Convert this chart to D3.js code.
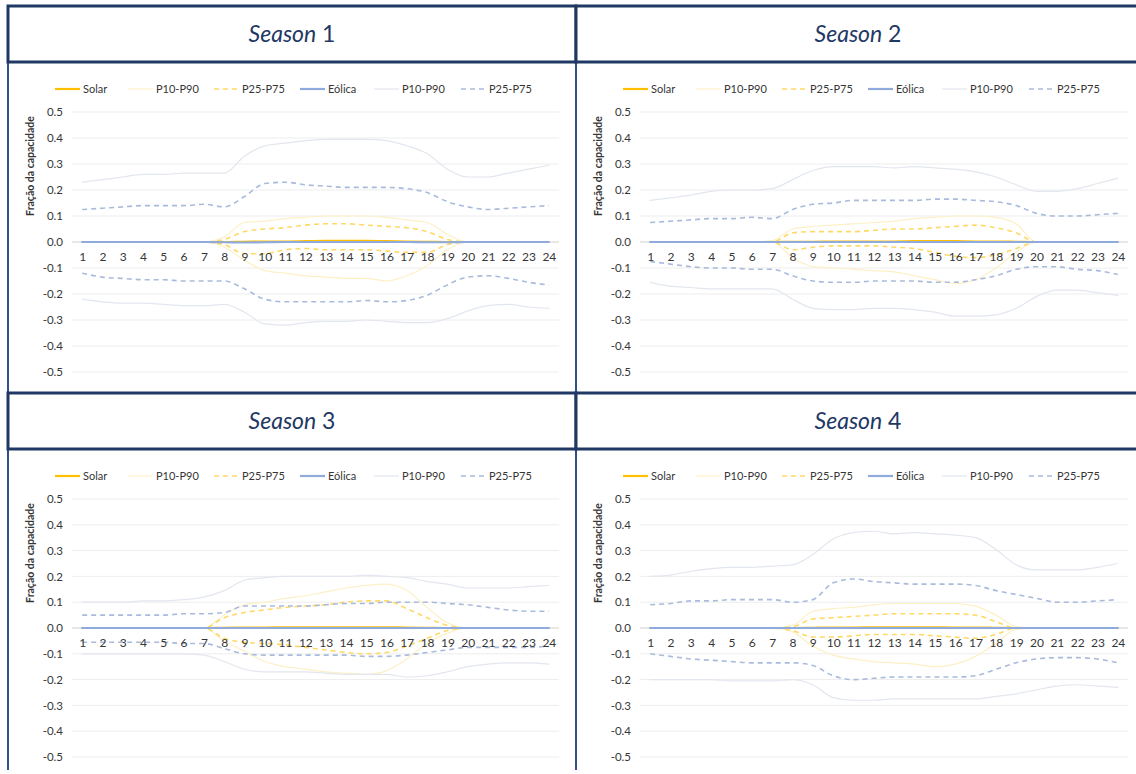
<!DOCTYPE html>
<html>
<head>
<meta charset="utf-8">
<script src="https://cdn.jsdelivr.net/npm/d3@7/dist/d3.min.js"></script>
<style>
  html, body { margin: 0; padding: 0; background: #fff; }
  svg { display: block; font-family: Lato, "Open Sans", sans-serif; }
</style>
</head>
<body>
<svg id="chart" width="1136" height="774"></svg>
<script>
// Hours of the day
const hours = d3.range(1, 25);
const yTicks = [0.5, 0.4, 0.3, 0.2, 0.1, 0.0, -0.1, -0.2, -0.3, -0.4, -0.5];
const seasonNames = ["1", "2", "3", "4"];
const legendLabels = ["Solar", "P10-P90", "P25-P75", "Eólica", "P10-P90", "P25-P75"];

// ---- Season 1 ----
const s1SolarMed = [0,0,0,0,0,0,0,0,0.001,0.002,0.002,0.003,0.004,0.004,0.004,0.003,0.002,0.001,0,0,0,0,0,0];
const s1SolarP90 = [0,0,0,0,0,0,0,0.02,0.075,0.08,0.09,0.095,0.1,0.1,0.1,0.095,0.085,0.075,0.03,0,0,0,0,0];
const s1SolarP75 = [0,0,0,0,0,0,0,0.01,0.04,0.05,0.055,0.065,0.07,0.07,0.065,0.06,0.055,0.04,0.01,0,0,0,0,0];
const s1SolarP25 = [0,0,0,0,0,0,0,-0.01,-0.045,-0.045,-0.03,-0.025,-0.03,-0.03,-0.03,-0.035,-0.04,-0.04,-0.01,0,0,0,0,0];
const s1SolarP10 = [0,0,0,0,0,0,0,-0.02,-0.07,-0.11,-0.12,-0.13,-0.135,-0.14,-0.14,-0.15,-0.13,-0.09,-0.03,0,0,0,0,0];
const s1WindMed  = [0,0,0,0,0,0,0,-0.001,-0.002,-0.001,0,0,0,0,0,0,0,-0.001,-0.001,0,0,0,0,0];
const s1WindP90  = [0.23,0.24,0.25,0.26,0.26,0.265,0.265,0.265,0.33,0.37,0.38,0.39,0.395,0.395,0.395,0.39,0.37,0.34,0.28,0.25,0.25,0.265,0.28,0.295];
const s1WindP75  = [0.125,0.13,0.135,0.14,0.14,0.14,0.145,0.135,0.175,0.225,0.23,0.22,0.215,0.21,0.21,0.21,0.205,0.19,0.155,0.135,0.125,0.13,0.135,0.14];
const s1WindP25  = [-0.12,-0.135,-0.14,-0.145,-0.145,-0.15,-0.15,-0.15,-0.18,-0.22,-0.23,-0.23,-0.23,-0.23,-0.225,-0.23,-0.225,-0.205,-0.165,-0.135,-0.13,-0.14,-0.155,-0.165];
const s1WindP10  = [-0.22,-0.23,-0.235,-0.235,-0.24,-0.245,-0.245,-0.24,-0.27,-0.315,-0.32,-0.31,-0.305,-0.305,-0.3,-0.305,-0.31,-0.31,-0.295,-0.265,-0.245,-0.24,-0.25,-0.255];

// ---- Season 2 ----
const s2SolarMed = [0,0,0,0,0,0,0,0.001,0.001,0.002,0.002,0.002,0.002,0.003,0.003,0.003,0.002,0.002,0.001,0,0,0,0,0];
const s2SolarP90 = [0,0,0,0,0,0,0.005,0.05,0.06,0.065,0.07,0.075,0.08,0.09,0.095,0.1,0.1,0.095,0.07,0,0,0,0,0];
const s2SolarP75 = [0,0,0,0,0,0,0,0.035,0.04,0.04,0.04,0.045,0.05,0.05,0.055,0.06,0.065,0.055,0.035,0,0,0,0,0];
const s2SolarP25 = [0,0,0,0,0,0,0,-0.03,-0.02,-0.015,-0.015,-0.015,-0.02,-0.025,-0.04,-0.055,-0.06,-0.05,-0.025,0,0,0,0,0];
const s2SolarP10 = [0,0,0,0,0,0,0,-0.06,-0.095,-0.1,-0.105,-0.11,-0.115,-0.13,-0.145,-0.16,-0.145,-0.1,-0.04,0,0,0,0,0];
const s2WindMed  = [0,0,0,0,0,0,0,0,0,0,0,0,0,0,0,0,0,0,0,0,0,0,0,0];
const s2WindP90  = [0.16,0.17,0.18,0.195,0.2,0.2,0.205,0.24,0.275,0.29,0.29,0.29,0.285,0.29,0.285,0.28,0.27,0.25,0.22,0.195,0.195,0.205,0.225,0.245];
const s2WindP75  = [0.075,0.08,0.085,0.09,0.09,0.095,0.09,0.125,0.145,0.15,0.16,0.16,0.16,0.16,0.165,0.165,0.16,0.155,0.14,0.11,0.1,0.1,0.105,0.11];
const s2WindP25  = [-0.075,-0.085,-0.095,-0.1,-0.1,-0.105,-0.105,-0.13,-0.15,-0.155,-0.155,-0.15,-0.15,-0.15,-0.155,-0.155,-0.145,-0.13,-0.105,-0.095,-0.095,-0.105,-0.11,-0.125];
const s2WindP10  = [-0.155,-0.17,-0.175,-0.18,-0.18,-0.18,-0.18,-0.22,-0.255,-0.26,-0.26,-0.255,-0.255,-0.26,-0.27,-0.285,-0.285,-0.28,-0.255,-0.21,-0.185,-0.185,-0.195,-0.205];

// ---- Season 3 ----
const s3SolarMed = [0,0,0,0,0,0,0,0.001,0.002,0.002,0.003,0.003,0.003,0.003,0.003,0.003,0.002,0.001,0,0,0,0,0,0];
const s3SolarP90 = [0,0,0,0,0,0,0,0.05,0.09,0.1,0.115,0.125,0.14,0.155,0.165,0.17,0.145,0.08,0.02,0,0,0,0,0];
const s3SolarP75 = [0,0,0,0,0,0,0,0.04,0.06,0.07,0.08,0.085,0.09,0.1,0.105,0.105,0.075,0.04,0.01,0,0,0,0,0];
const s3SolarP25 = [0,0,0,0,0,0,0,-0.04,-0.055,-0.06,-0.065,-0.075,-0.085,-0.095,-0.1,-0.095,-0.07,-0.04,-0.01,0,0,0,0,0];
const s3SolarP10 = [0,0,0,0,0,0,0,-0.05,-0.09,-0.13,-0.15,-0.16,-0.17,-0.175,-0.18,-0.165,-0.12,-0.06,-0.02,0,0,0,0,0];
const s3WindMed  = [0,0,0,0,0,0,0,0,0,0,0,0,0,0,0,0,0,0,0,0,0,0,0,0];
const s3WindP90  = [0.1,0.1,0.1,0.105,0.105,0.11,0.12,0.145,0.185,0.195,0.2,0.2,0.2,0.2,0.205,0.2,0.195,0.18,0.17,0.155,0.155,0.155,0.16,0.165];
const s3WindP75  = [0.05,0.05,0.05,0.05,0.05,0.055,0.055,0.06,0.085,0.085,0.085,0.085,0.09,0.095,0.095,0.1,0.1,0.1,0.095,0.09,0.08,0.07,0.065,0.065];
const s3WindP25  = [-0.055,-0.055,-0.055,-0.055,-0.055,-0.06,-0.06,-0.08,-0.1,-0.105,-0.105,-0.105,-0.105,-0.105,-0.11,-0.11,-0.105,-0.095,-0.085,-0.075,-0.075,-0.075,-0.075,-0.07];
const s3WindP10  = [-0.1,-0.1,-0.1,-0.1,-0.1,-0.1,-0.105,-0.13,-0.16,-0.17,-0.17,-0.17,-0.175,-0.18,-0.18,-0.18,-0.19,-0.185,-0.17,-0.15,-0.14,-0.135,-0.135,-0.14];

// ---- Season 4 ----
const s4SolarMed = [0,0,0,0,0,0,0,0,0.001,0.002,0.002,0.003,0.003,0.003,0.003,0.002,0.002,0.001,0,0,0,0,0,0];
const s4SolarP90 = [0,0,0,0,0,0,0,0.01,0.065,0.075,0.08,0.09,0.095,0.095,0.095,0.095,0.085,0.05,0.005,0,0,0,0,0];
const s4SolarP75 = [0,0,0,0,0,0,0,0.005,0.035,0.04,0.045,0.05,0.055,0.055,0.055,0.055,0.05,0.025,0,0,0,0,0,0];
const s4SolarP25 = [0,0,0,0,0,0,0,-0.01,-0.035,-0.035,-0.03,-0.025,-0.025,-0.025,-0.03,-0.035,-0.04,-0.025,0,0,0,0,0,0];
const s4SolarP10 = [0,0,0,0,0,0,0,-0.015,-0.07,-0.105,-0.12,-0.13,-0.135,-0.14,-0.15,-0.14,-0.11,-0.06,-0.005,0,0,0,0,0];
const s4WindMed  = [0,0,0,0,0,0,0,0,0,0,0,0,0,0,0,0,0,0,0,0,0,0,0,0];
const s4WindP90  = [0.2,0.205,0.22,0.23,0.235,0.235,0.24,0.245,0.285,0.345,0.37,0.375,0.365,0.37,0.365,0.36,0.35,0.305,0.245,0.225,0.225,0.225,0.235,0.25];
const s4WindP75  = [0.09,0.095,0.105,0.105,0.11,0.11,0.11,0.1,0.11,0.175,0.19,0.18,0.175,0.17,0.17,0.17,0.165,0.145,0.13,0.115,0.1,0.1,0.105,0.11];
const s4WindP25  = [-0.1,-0.11,-0.12,-0.125,-0.13,-0.135,-0.135,-0.135,-0.145,-0.185,-0.2,-0.195,-0.19,-0.19,-0.19,-0.19,-0.185,-0.16,-0.135,-0.12,-0.115,-0.115,-0.12,-0.135];
const s4WindP10  = [-0.2,-0.2,-0.2,-0.2,-0.205,-0.205,-0.205,-0.2,-0.22,-0.27,-0.28,-0.28,-0.275,-0.275,-0.275,-0.275,-0.275,-0.265,-0.255,-0.24,-0.225,-0.22,-0.225,-0.23];

// Series bundled per season, in the drawing order of the legend
const seasons = [
  { solar: [s1SolarMed, s1SolarP90, s1SolarP10, s1SolarP75, s1SolarP25], wind: [s1WindMed, s1WindP90, s1WindP10, s1WindP75, s1WindP25] },
  { solar: [s2SolarMed, s2SolarP90, s2SolarP10, s2SolarP75, s2SolarP25], wind: [s2WindMed, s2WindP90, s2WindP10, s2WindP75, s2WindP25] },
  { solar: [s3SolarMed, s3SolarP90, s3SolarP10, s3SolarP75, s3SolarP25], wind: [s3WindMed, s3WindP90, s3WindP10, s3WindP75, s3WindP25] },
  { solar: [s4SolarMed, s4SolarP90, s4SolarP10, s4SolarP75, s4SolarP25], wind: [s4WindMed, s4WindP90, s4WindP10, s4WindP75, s4WindP25] }
];

// ---- styling ----
const NAVY = "#1f3864";
const TEXT = "#363636";
const styles = {
  solarMed: { stroke: "#ffc000", width: 2.2, dash: null },
  solarOuter: { stroke: "#fdf0c6", width: 1.2, dash: null },
  solarInner: { stroke: "#ffd966", width: 1.6, dash: "5,4" },
  windMed: { stroke: "#8faadc", width: 2.2, dash: null },
  windOuter: { stroke: "#e2e6ee", width: 1.2, dash: null },
  windInner: { stroke: "#a9bbdd", width: 1.6, dash: "5,4" }
};
const legendStyles = [styles.solarMed, styles.solarOuter, styles.solarInner, styles.windMed, styles.windOuter, styles.windInner];

const svg = d3.select("#chart");

// ---- panel frame layout ----
const colX = [8, 576, 1142];
const rows = [
  { titleTop: 6, titleBottom: 62, chartBottom: 393, yTop: 112, yBottom: 372 },
  { titleTop: 393, titleBottom: 449, chartBottom: 770, yTop: 499, yBottom: 757 }
];

// chart body verticals (thinner than the title boxes)
rows.forEach(r => {
  [colX[0], colX[1]].forEach(x => {
    svg.append("line")
      .attr("x1", x).attr("x2", x)
      .attr("y1", r.titleBottom).attr("y2", r.chartBottom)
      .attr("stroke", "#2f4f8f").attr("stroke-width", 2);
  });
});

function drawPanel(idx) {
  const row = rows[Math.floor(idx / 2)];
  const col = idx % 2;
  const left = colX[col];
  const right = colX[col + 1];
  const data = seasons[idx];

  const plotLeft = col === 0 ? 72 : 640;
  const plotRight = col === 0 ? 559 : 1128;

  const x = d3.scalePoint().domain(hours).range([plotLeft, plotRight]).padding(0.5);
  const y = d3.scaleLinear().domain([-0.5, 0.5]).range([row.yBottom, row.yTop]);

  const g = svg.append("g");

  // title box
  g.append("rect")
    .attr("x", left).attr("y", row.titleTop)
    .attr("width", right - left).attr("height", row.titleBottom - row.titleTop)
    .attr("fill", "#fff").attr("stroke", NAVY).attr("stroke-width", 3);

  const title = g.append("text")
    .attr("x", (left + Math.min(right, 1140)) / 2)
    .attr("y", (row.titleTop + row.titleBottom) / 2 + 8)
    .attr("text-anchor", "middle")
    .attr("fill", NAVY)
    .style("font-size", "23px");
  title.append("tspan").style("font-style", "italic").text("Season");
  title.append("tspan").text(" " + seasonNames[idx]);

  // gridlines
  g.append("g").selectAll("line").data(yTicks).join("line")
    .attr("x1", plotLeft).attr("x2", plotRight)
    .attr("y1", d => y(d)).attr("y2", d => y(d))
    .attr("stroke", "#ededed").attr("stroke-width", 1);

  // y axis labels
  const yAxis = d3.axisLeft(y).tickValues(yTicks).tickSize(0).tickPadding(9)
    .tickFormat(d => (Math.abs(d) < 1e-9 ? 0 : d).toFixed(1));
  g.append("g").attr("transform", `translate(${plotLeft},0)`).call(yAxis)
    .call(a => a.select(".domain").remove())
    .selectAll("text")
    .attr("fill", TEXT).style("font-size", "11.5px").style("font-family", "Lato, sans-serif");

  // y axis title
  g.append("text")
    .attr("transform", `translate(${left + 22},${row.yTop + 54}) rotate(-90)`)
    .attr("text-anchor", "middle")
    .attr("dy", "0.35em")
    .attr("fill", TEXT)
    .style("font-size", "10.5px").style("font-weight", "bold")
    .text("Fração da capacidade");

  // zero axis line
  g.append("line")
    .attr("x1", plotLeft).attr("x2", plotRight)
    .attr("y1", y(0)).attr("y2", y(0))
    .attr("stroke", "#d9d9d9").attr("stroke-width", 1);

  // series lines
  const line = d3.line().x((d, i) => x(hours[i])).y(d => y(d)).curve(d3.curveMonotoneX);
  const drawSeries = (arr, st) => {
    g.append("path").datum(arr)
      .attr("d", line)
      .attr("fill", "none")
      .attr("stroke", st.stroke)
      .attr("stroke-width", st.width)
      .attr("stroke-dasharray", st.dash)
      .attr("stroke-linecap", st.dash ? "butt" : "round");
  };
  drawSeries(data.solar[0], styles.solarMed);
  drawSeries(data.solar[1], styles.solarOuter);
  drawSeries(data.solar[2], styles.solarOuter);
  drawSeries(data.solar[3], styles.solarInner);
  drawSeries(data.solar[4], styles.solarInner);
  drawSeries(data.wind[0], styles.windMed);
  drawSeries(data.wind[1], styles.windOuter);
  drawSeries(data.wind[2], styles.windOuter);
  drawSeries(data.wind[3], styles.windInner);
  drawSeries(data.wind[4], styles.windInner);

  // x axis labels (hours) under the zero line
  const xAxis = d3.axisBottom(x).tickSize(0).tickPadding(10);
  g.append("g").attr("transform", `translate(0,${y(0)})`).call(xAxis)
    .call(a => a.select(".domain").remove())
    .selectAll("text")
    .attr("fill", TEXT).style("font-size", "12px").style("font-family", "Lato, sans-serif");

  // legend
  const legendY = row.titleBottom + 27;
  const itemOffsets = [47, 120, 206, 292, 366, 453];
  const lg = g.append("g");
  legendLabels.forEach((lab, i) => {
    const lx = left + itemOffsets[i];
    const st = legendStyles[i];
    lg.append("line")
      .attr("x1", lx).attr("x2", lx + 25)
      .attr("y1", legendY).attr("y2", legendY)
      .attr("stroke", st.stroke).attr("stroke-width", st.width)
      .attr("stroke-dasharray", st.dash);
    lg.append("text")
      .attr("x", lx + 28).attr("y", legendY).attr("dy", "0.35em")
      .attr("fill", TEXT).style("font-size", "11px")
      .text(lab);
  });
}

[0, 1, 2, 3].forEach(drawPanel);
</script>
</body>
</html>
